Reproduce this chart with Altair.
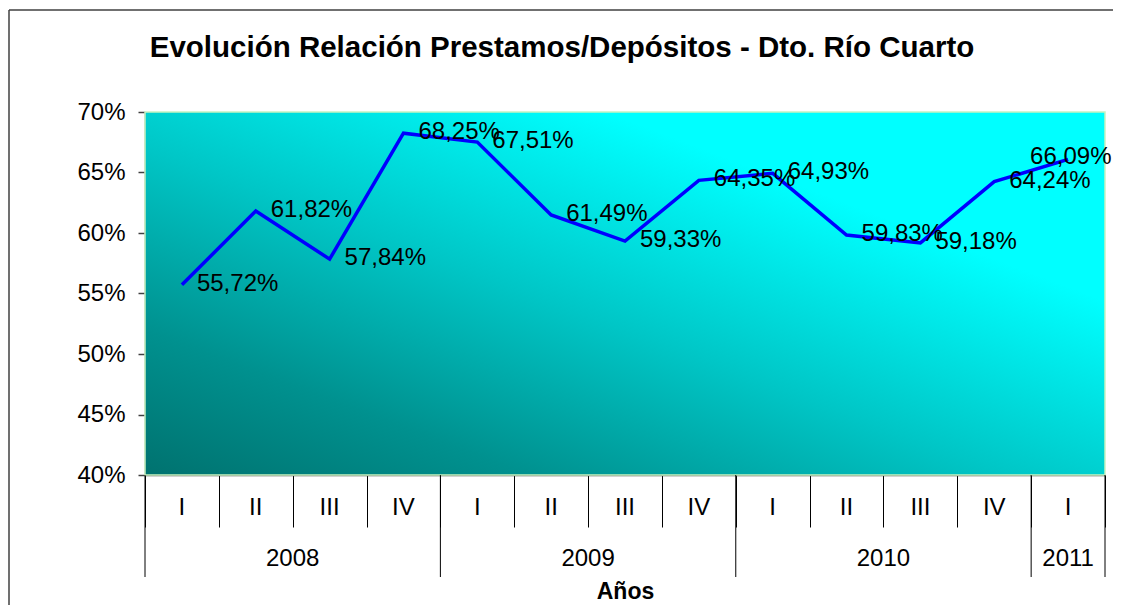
import altair as alt
import pandas as pd

# ---- data ----
quarters = ["I", "II", "III", "IV", "I", "II", "III", "IV", "I", "II", "III", "IV", "I"]
values = [55.72, 61.82, 57.84, 68.25, 67.51, 61.49, 59.33, 64.35, 64.93, 59.83, 59.18, 64.24, 66.09]
years = ["2008", "2009", "2010", "2011"]
year_centers = [2, 6, 10, 12.5]
year_bounds = [0, 4, 8, 12, 13]
y_ticks = [0.40, 0.45, 0.50, 0.55, 0.60, 0.65, 0.70]

TITLE = "Evolución Relación Prestamos/Depósitos - Dto. Río Cuarto"
FONT = "Liberation Sans"
W, H = 960, 363

n = len(values)
df = pd.DataFrame({
    "pos": [i + 0.5 for i in range(n)],
    "q": quarters,
    "v": [v / 100 for v in values],
    "lab": [f"{v:.2f}".replace(".", ",") + "%" for v in values],
    "last": [i == n - 1 for i in range(n)],
})
dy = pd.DataFrame({"year": years, "pos": year_centers})
db = pd.DataFrame({"pos": year_bounds})
one = pd.DataFrame({"a": [0]})

xs = alt.Scale(domain=[0, 13], nice=False, zero=False)
ys = alt.Scale(domain=[0.40, 0.70], nice=False, zero=False)

grad = alt.LinearGradient(
    gradient="linear",
    x1=0, y1=1, x2=1, y2=0,
    stops=[
        alt.GradientStop(color="#00726F", offset=0),
        alt.GradientStop(color="#00918F", offset=0.2),
        alt.GradientStop(color="#00C6C6", offset=0.45),
        alt.GradientStop(color="#00FFFF", offset=0.74),
        alt.GradientStop(color="#00FFFF", offset=1),
    ],
)

bg = alt.Chart(one).mark_rect(color=grad, stroke="#C8F2C0", strokeWidth=1.5).encode(
    x=alt.value(0), x2=alt.value(W), y=alt.value(0), y2=alt.value(H)
)

base = alt.Chart(df)

line = base.mark_line(color="#0000FF", strokeWidth=3.5).encode(
    x=alt.X("pos:Q", scale=xs,
            axis=alt.Axis(values=list(range(14)), labels=False, tickSize=52,
                          tickColor="#000000", tickWidth=1, domainColor="#505050",
                          domainWidth=1.5, grid=False, title="Años",
                          titleFont=FONT, titleFontSize=23, titleFontWeight="bold",
                          titleColor="#000000", titleY=123, titleBaseline="alphabetic")),
    y=alt.Y("v:Q", scale=ys,
            axis=alt.Axis(values=y_ticks, format=".0%", labelFont=FONT, labelFontSize=24,
                          labelColor="#000000", tickSize=7, tickColor="#404040",
                          tickWidth=1.5, domainColor="#404040", domainWidth=1.5,
                          labelPadding=13, grid=False, title=None)),
)

labels = base.transform_filter("!datum.last").mark_text(
    font=FONT, fontSize=24, color="#000000", align="left", baseline="middle", dx=15, dy=-1
).encode(x=alt.X("pos:Q", scale=xs), y=alt.Y("v:Q", scale=ys), text="lab:N")

last_label = base.transform_filter("datum.last").mark_text(
    font=FONT, fontSize=24, color="#000000", align="left", baseline="middle", dx=-38, dy=-2
).encode(x=alt.X("pos:Q", scale=xs), y=alt.Y("v:Q", scale=ys), text="lab:N")

qlabels = base.mark_text(font=FONT, fontSize=24, color="#000000", align="center",
                         baseline="middle").encode(
    x=alt.X("pos:Q", scale=xs), y=alt.value(H + 33), text="q:N"
)

ylabels = alt.Chart(dy).mark_text(font=FONT, fontSize=24, color="#000000", align="center",
                                  baseline="middle").encode(
    x=alt.X("pos:Q", scale=xs), y=alt.value(H + 84), text="year:N"
)

yrules = alt.Chart(db).mark_rule(color="#000000", strokeWidth=1).encode(
    x=alt.X("pos:Q", scale=xs), y=alt.value(H), y2=alt.value(H + 102)
)

title = alt.Chart(one).mark_text(text=TITLE, font=FONT, fontSize=29.5, fontWeight="bold",
                                 color="#000000", align="center", baseline="middle").encode(
    x=alt.value(417), y=alt.value(-64)
)

frame_left = alt.Chart(one).mark_rule(color="#404040", strokeWidth=1.5).encode(
    x=alt.value(-136), y=alt.value(-102), y2=alt.value(H + 140)
)
frame_top = alt.Chart(one).mark_rule(color="#404040", strokeWidth=1.5).encode(
    x=alt.value(-136), x2=alt.value(W + 20), y=alt.value(-102)
)

chart = alt.layer(
    bg, yrules, line, labels, last_label, qlabels, ylabels, title, frame_left, frame_top
).properties(
    width=W, height=H,
    autosize=alt.AutoSizeParams(type="none"),
    padding={"left": 137, "top": 104, "right": 8, "bottom": 130},
    background="#FFFFFF",
).configure_view(stroke=None)

chart.save("out.html", embed_options={"renderer": "svg", "actions": False})
